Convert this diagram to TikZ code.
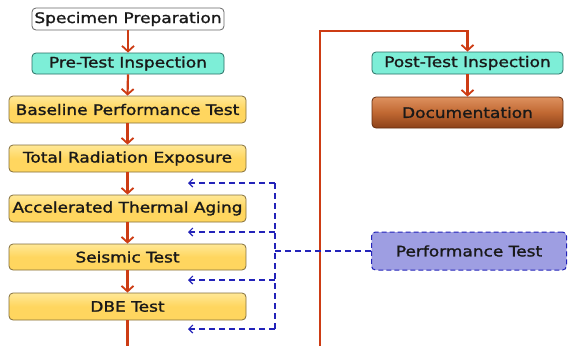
\documentclass[tikz,border=0pt]{standalone}
\usepackage{fontspec}
\usetikzlibrary{arrows.meta,calc}
\newfontfamily\df[FakeStretch=1.17,FakeBold=1.3]{DejaVu Sans}
\definecolor{rd}{RGB}{205,60,20}
\definecolor{bl}{RGB}{35,35,185}
\definecolor{yel}{RGB}{255,214,95}
\definecolor{yeltop}{RGB}{255,232,150}
\definecolor{yelbd}{RGB}{130,110,60}
\definecolor{cy}{RGB}{125,238,215}
\definecolor{cybd}{RGB}{40,110,100}
\definecolor{pf}{RGB}{158,158,226}
\definecolor{brtop}{RGB}{222,145,95}
\definecolor{brmid}{RGB}{192,104,50}
\definecolor{brbot}{RGB}{140,65,25}
\definecolor{brbd}{RGB}{100,45,15}
\tikzset{
  box/.style={rounded corners=4pt, inner sep=0pt, align=center,
    font=\df\fontsize{14.5}{16}\selectfont, text=black!90, line width=0.8pt},
  whitebox/.style={box, draw=black!60, fill=white},
  cybox/.style={box, draw=cybd, fill=cy},
  ybox/.style={box, draw=yelbd, top color=yeltop, bottom color=yel, middle color=yel},
  brbox/.style={box, draw=brbd, top color=brtop, bottom color=brbot, middle color=brmid},
  pfbox/.style={box, draw=bl, dashed, dash pattern=on 5pt off 3pt, fill=pf, line width=1pt},
  rline/.style={draw=rd, line width=2.2pt},
  rarr/.style={rline, -{Straight Barb[length=5.5pt,width=12pt,line width=1.8pt]}},
  bline/.style={draw=bl, line width=1.2pt, dash pattern=on 6pt off 4pt},
  barr/.style={bline, -{Straight Barb[length=4pt,width=8pt,line width=1.2pt]}}
}
\begin{document}
\begin{tikzpicture}[x=1pt,y=-1pt]
\useasboundingbox (0,0) rectangle (568,346);
\node[whitebox, minimum width=192pt, minimum height=22pt] (spec) at (128,19) {Specimen Preparation};
\node[cybox, minimum width=192pt, minimum height=21pt] (pre) at (128,63.5) {Pre-Test Inspection};
\node[ybox, minimum width=237pt, minimum height=27pt] (base) at (127.5,109.5) {Baseline Performance Test};
\node[ybox, minimum width=237pt, minimum height=27pt] (rad) at (127.5,158.5) {Total Radiation Exposure};
\node[ybox, minimum width=237pt, minimum height=27pt] (ata) at (127.5,208.5) {Accelerated Thermal Aging};
\node[ybox, minimum width=237pt, minimum height=26pt] (seis) at (127.5,257) {Seismic Test};
\node[ybox, minimum width=237pt, minimum height=27pt] (dbe) at (127.5,306.5) {DBE Test};
\node[cybox, minimum width=191pt, minimum height=22pt] (post) at (467.5,63) {Post-Test Inspection};
\node[brbox, minimum width=191pt, minimum height=31pt] (doc) at (467.5,112.5) {Documentation};
\node[pfbox, minimum width=195pt, minimum height=38pt] (perf) at (469,251) {Performance Test};

\draw[rarr] (spec.south) -- (pre.north);
\draw[rarr] (pre.south) -- (base.north);
\draw[rarr] (base.south) -- (rad.north);
\draw[rarr] (rad.south) -- (ata.north);
\draw[rarr] (ata.south) -- (seis.north);
\draw[rarr] (seis.south) -- (dbe.north);
\coordinate (bot) at (127,346);
\draw[rline] (dbe.south) -- (dbe.south |- bot);

\coordinate (r0) at (320,346);
\coordinate (r1) at (320,31);
\draw[rarr] (r0) -- (r1) -| (post.north);
\draw[rarr] (post.south) -- (doc.north);

\coordinate (j1) at (275,183);
\coordinate (j2) at (275,232);
\coordinate (j3) at (275,280);
\coordinate (j4) at (275,329);
\coordinate (t1) at (188,183);
\coordinate (t2) at (188,232);
\coordinate (t3) at (188,280);
\coordinate (t4) at (188,329);
\draw[bline] (j1) -- (j4);
\draw[barr] (j1) -- (t1);
\draw[barr] (j2) -- (t2);
\draw[barr] (j3) -- (t3);
\draw[barr] (j4) -- (t4);
\draw[bline] (perf.west) -- (perf.west -| j1);
\end{tikzpicture}
\end{document}
